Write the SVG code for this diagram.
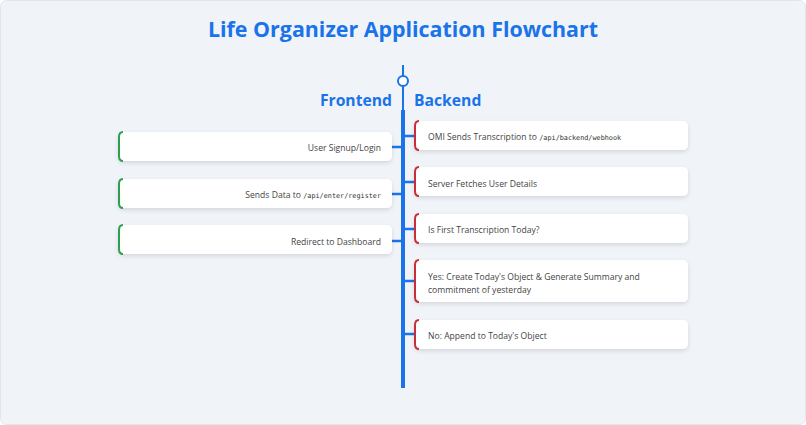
<svg xmlns="http://www.w3.org/2000/svg" width="806" height="425" viewBox="0 0 806 425">
<defs>
<filter id="sh" x="-10%" y="-30%" width="120%" height="170%">
<feDropShadow dx="0" dy="2" stdDeviation="2" flood-color="#000" flood-opacity="0.12"/>
</filter>
</defs>
<style>
.t{font-family:"Open Sans","Noto Sans","Liberation Sans",sans-serif;font-size:8.6px;fill:#444}
.m{font-family:"DejaVu Sans Mono","Liberation Mono",monospace;font-size:6.8px;fill:#333}
.h{font-family:"Open Sans","Noto Sans","Liberation Sans",sans-serif;font-weight:bold;fill:#1a73e8}
.box{fill:#fff;filter:url(#sh)}
.fe{fill:none;stroke:#2e9e4f;stroke-width:2}
.be{fill:none;stroke:#c62f3a;stroke-width:2}
.c{stroke:#1a73e8;stroke-width:2.5;fill:none}
</style>
<rect x="0.5" y="0.5" width="805" height="424" rx="6" fill="#f0f4f9" stroke="#e2e6ea"/>
<text class="h" x="403" y="37" font-size="21.4" text-anchor="middle">Life Organizer Application Flowchart</text>
<g id="timeline">
<line x1="403" y1="65" x2="403" y2="110" stroke="#1a73e8" stroke-width="2"/>
<line x1="403" y1="110" x2="403" y2="388" stroke="#1a73e8" stroke-width="4"/>
<circle cx="403" cy="81" r="5" fill="#fff" stroke="#1a73e8" stroke-width="2"/>
</g>
<text class="h" x="392" y="106" font-size="15.7" text-anchor="end">Frontend</text>
<text class="h" x="414" y="106" font-size="15.7">Backend</text>
<g id="connectors">
<line class="c" x1="392" y1="147" x2="403" y2="147"/>
<line class="c" x1="392" y1="194" x2="403" y2="194"/>
<line class="c" x1="392" y1="241" x2="403" y2="241"/>
<line class="c" x1="403" y1="136" x2="414" y2="136"/>
<line class="c" x1="403" y1="182" x2="414" y2="182"/>
<line class="c" x1="403" y1="229" x2="414" y2="229"/>
<line class="c" x1="403" y1="281" x2="414" y2="281"/>
<line class="c" x1="403" y1="334" x2="414" y2="334"/>
</g>
<g id="fe1">
<rect class="box" x="118" y="132" width="274" height="29" rx="5"/>
<path class="fe" d="M123,132 Q119,132 119,137 L119,156 Q119,161 123,161"/>
<text class="t" x="381" y="151" text-anchor="end">User Signup/Login</text>
</g>
<g id="fe2">
<rect class="box" x="118" y="179" width="274" height="29" rx="5"/>
<path class="fe" d="M123,179 Q119,179 119,184 L119,203 Q119,208 123,208"/>
<text class="t" x="381" y="198" text-anchor="end">Sends Data to <tspan class="m">/api/enter/register</tspan></text>
</g>
<g id="fe3">
<rect class="box" x="118" y="225" width="274" height="29" rx="5"/>
<path class="fe" d="M123,225 Q119,225 119,230 L119,249 Q119,254 123,254"/>
<text class="t" x="381" y="245" text-anchor="end">Redirect to Dashboard</text>
</g>
<g id="be1">
<rect class="box" x="414" y="121" width="274" height="29" rx="5"/>
<path class="be" d="M419,121 Q415,121 415,126 L415,145 Q415,150 419,150"/>
<text class="t" x="428" y="140">OMI Sends Transcription to <tspan class="m">/api/backend/webhook</tspan></text>
</g>
<g id="be2">
<rect class="box" x="414" y="167" width="274" height="29" rx="5"/>
<path class="be" d="M419,167 Q415,167 415,172 L415,191 Q415,196 419,196"/>
<text class="t" x="428" y="187">Server Fetches User Details</text>
</g>
<g id="be3">
<rect class="box" x="414" y="214" width="274" height="29" rx="5"/>
<path class="be" d="M419,214 Q415,214 415,219 L415,238 Q415,243 419,243"/>
<text class="t" x="428" y="233">Is First Transcription Today?</text>
</g>
<g id="be4">
<rect class="box" x="414" y="260" width="274" height="42" rx="5"/>
<path class="be" d="M419,260 Q415,260 415,265 L415,297 Q415,302 419,302"/>
<text class="t" x="428" y="280">Yes: Create Today's Object &amp; Generate Summary and</text>
<text class="t" x="428" y="293">commitment of yesterday</text>
</g>
<g id="be5">
<rect class="box" x="414" y="320" width="274" height="29" rx="5"/>
<path class="be" d="M419,320 Q415,320 415,325 L415,344 Q415,349 419,349"/>
<text class="t" x="428" y="339">No: Append to Today's Object</text>
</g>
</svg>
